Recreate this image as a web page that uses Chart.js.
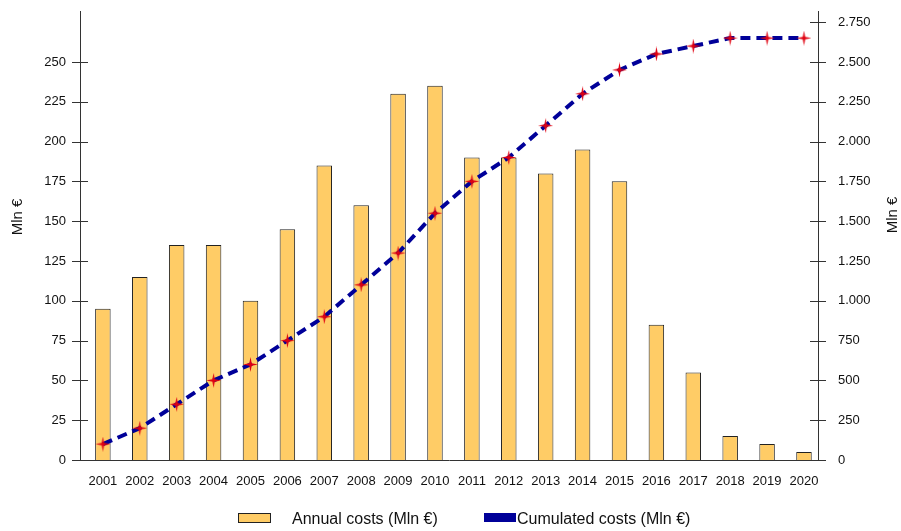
<!DOCTYPE html>
<html>
<head>
<meta charset="utf-8">
<script src="https://cdn.jsdelivr.net/npm/chart.js@4/dist/chart.umd.min.js"></script>
<style>
  html, body { margin: 0; padding: 0; background: #fff; }
  #wrap { width: 901px; height: 531px; position: relative; }
</style>
</head>
<body>
<div id="wrap"><canvas id="chart"></canvas></div>
<script>
// values
const years = ["2001","2002","2003","2004","2005","2006","2007","2008","2009","2010",
               "2011","2012","2013","2014","2015","2016","2017","2018","2019","2020"];
const annualCosts    = [95, 115, 135, 135, 100, 145, 185, 160, 230, 235,
                        190, 190, 180, 195, 175, 85, 55, 15, 10, 5];
const cumulatedCosts = [100, 200, 350, 500, 600, 750, 900, 1100, 1300, 1550,
                        1750, 1900, 2100, 2300, 2450, 2550, 2600, 2650, 2650, 2650];
const leftTicks  = [0, 25, 50, 75, 100, 125, 150, 175, 200, 225, 250];
const rightTicks = [0, 250, 500, 750, 1000, 1250, 1500, 1750, 2000, 2250, 2500, 2750];
const legendLabels = ["Annual costs (Mln €)", "Cumulated costs (Mln €)"];
const axisTitle = "Mln €";

const barFill   = "#ffcc66";
const lineColor = "#000099";
const fontFam   = "'Liberation Sans', Arial, sans-serif";
const tickFont  = { size: 13, family: fontFam };

// 4-pointed red star used as point marker
function makeStar() {
  const c = document.createElement("canvas");
  c.width = 15; c.height = 15;
  const g = c.getContext("2d");
  const m = 7.5;
  g.fillStyle = "#e00010";
  g.beginPath();
  g.moveTo(m, 0);
  g.lineTo(m + 1.2, m - 1.2);
  g.lineTo(15, m);
  g.lineTo(m + 1.2, m + 1.2);
  g.lineTo(m, 15);
  g.lineTo(m - 1.2, m + 1.2);
  g.lineTo(0, m);
  g.lineTo(m - 1.2, m - 1.2);
  g.closePath();
  g.fill();
  return c;
}
const star = makeStar();

// tick marks that cross the y axis lines, plus the rotated axis titles
const crossTicks = {
  id: "crossTicks",
  afterDraw(chart) {
    const ctx = chart.ctx;
    ctx.save();
    ctx.strokeStyle = "#333";
    ctx.lineWidth = 1;
    ["y", "y2"].forEach(id => {
      const s = chart.scales[id];
      const ax = id === "y" ? s.right : s.left;
      s.ticks.forEach(t => {
        const py = Math.round(s.getPixelForValue(t.value)) + 0.5;
        ctx.beginPath();
        ctx.moveTo(ax - 8, py);
        ctx.lineTo(ax + 8, py);
        ctx.stroke();
      });
    });
    ctx.font = "15px " + fontFam;
    ctx.fillStyle = "#111";
    ctx.textAlign = "center";
    ctx.textBaseline = "middle";
    [[18, 217], [893, 215]].forEach(([x, y]) => {
      ctx.save();
      ctx.translate(x, y);
      ctx.rotate(-Math.PI / 2);
      ctx.fillText(axisTitle, 0, 0);
      ctx.restore();
    });
    ctx.restore();
  }
};

// legend laid out like the original (boxes + text under the plot)
const bottomLegend = {
  id: "bottomLegend",
  afterDraw(chart) {
    const ctx = chart.ctx;
    ctx.save();
    ctx.font = "16px " + fontFam;
    ctx.textBaseline = "middle";
    ctx.fillStyle = barFill;
    ctx.fillRect(238, 513, 32, 9);
    ctx.strokeStyle = "#222";
    ctx.lineWidth = 1;
    ctx.strokeRect(238.5, 513.5, 32, 9);
    ctx.fillStyle = lineColor;
    ctx.fillRect(484, 513, 32, 9);
    ctx.fillStyle = "#111";
    ctx.fillText(legendLabels[0], 292, 520);
    ctx.fillText(legendLabels[1], 517, 520);
    ctx.restore();
  }
};

new Chart(document.getElementById("chart"), {
  data: {
    labels: years,
    datasets: [
      {
        type: "line",
        label: legendLabels[1],
        data: cumulatedCosts,
        yAxisID: "y2",
        borderColor: lineColor,
        borderWidth: 4,
        borderDash: [10, 6],
        pointStyle: star,
        pointRadius: 7,
        pointHoverRadius: 7,
        tension: 0,
        fill: false,
        order: 0
      },
      {
        type: "bar",
        label: legendLabels[0],
        data: annualCosts,
        yAxisID: "y",
        backgroundColor: barFill,
        borderColor: "#222",
        borderWidth: 1,
        barPercentage: 0.42,
        categoryPercentage: 1,
        order: 1
      }
    ]
  },
  options: {
    responsive: true,
    maintainAspectRatio: false,
    animation: false,
    layout: { padding: { top: 10, left: 0, right: 0, bottom: 25 } },
    plugins: {
      tooltip: { enabled: false },
      legend: { display: false }
    },
    scales: {
      x: {
        type: "linear",
        offset: false,
        min: 2000.38,
        max: 2020.38,
        grid: { display: false },
        border: { color: "#333", width: 1 },
        afterBuildTicks: s => { s.ticks = years.map(y => ({ value: Number(y) })); },
        ticks: { color: "#111", font: tickFont, padding: 6, maxRotation: 0, autoSkip: false,
                 callback: v => String(v) },
        afterFit: s => { s.height = 46; s.paddingLeft = 0; s.paddingRight = 0; }
      },
      y: {
        position: "left",
        min: 0, max: 282,
        grid: { display: false, drawTicks: false },
        border: { color: "#333", width: 1 },
        afterBuildTicks: s => { s.ticks = leftTicks.map(v => ({ value: v })); },
        ticks: { color: "#111", font: tickFont, padding: 14 },
        afterFit: s => { s.width = 80; s.paddingTop = 0; s.paddingBottom = 0; }
      },
      y2: {
        position: "right",
        min: 0, max: 2820,
        grid: { display: false, drawTicks: false },
        border: { color: "#333", width: 1 },
        afterBuildTicks: s => { s.ticks = rightTicks.map(v => ({ value: v })); },
        ticks: {
          color: "#111", font: tickFont, padding: 20,
          callback: v => v.toLocaleString("en-US").replace(/,/g, ".")
        },
        afterFit: s => { s.width = 83; s.paddingTop = 0; s.paddingBottom = 0; }
      }
    }
  },
  plugins: [crossTicks, bottomLegend]
});
</script>
</body>
</html>
